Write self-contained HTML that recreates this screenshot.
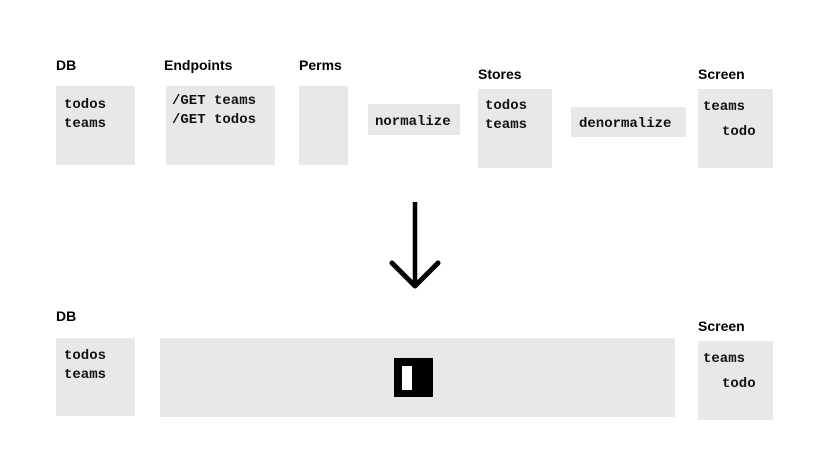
<!DOCTYPE html>
<html><head><meta charset="utf-8"><style>
body{margin:0;width:830px;height:475px;background:#fff;position:relative;overflow:hidden}
.b{position:absolute;background:#e8e8e8}
.t{position:absolute;font:bold 14px "Liberation Sans",sans-serif;color:#000;line-height:16px}
.m{position:absolute;font:bold 14px "Liberation Mono",monospace;color:#111;line-height:19px;white-space:pre}
</style></head><body>
<div class="t" style="left:56px;top:57px">DB</div>
<div class="b" style="left:56px;top:86px;width:79px;height:79px"></div>
<div class="m" style="left:64px;top:96px">todos
teams</div>
<div class="t" style="left:164px;top:57px">Endpoints</div>
<div class="b" style="left:166px;top:86px;width:109px;height:79px"></div>
<div class="m" style="left:172px;top:92px">/GET teams
/GET todos</div>
<div class="t" style="left:299px;top:57px">Perms</div>
<div class="b" style="left:299px;top:86px;width:49px;height:79px"></div>
<div class="b" style="left:368px;top:104px;width:92px;height:31px"></div>
<div class="m" style="left:375px;top:113px">normalize</div>
<div class="t" style="left:478px;top:66px">Stores</div>
<div class="b" style="left:478px;top:89px;width:74px;height:79px"></div>
<div class="m" style="left:485px;top:97px">todos
teams</div>
<div class="b" style="left:571px;top:107px;width:115px;height:30px"></div>
<div class="m" style="left:579px;top:115px">denormalize</div>
<div class="t" style="left:698px;top:66px">Screen</div>
<div class="b" style="left:698px;top:89px;width:75px;height:79px"></div>
<div class="m" style="left:703px;top:98px">teams</div>
<div class="m" style="left:722px;top:123px">todo</div>
<svg style="position:absolute;left:0;top:0" width="830" height="475">
<line x1="415" y1="202" x2="415" y2="284" stroke="#000" stroke-width="4.5"/>
<polyline points="392,263 415,286 438,263" fill="none" stroke="#000" stroke-width="5" stroke-linecap="round" stroke-linejoin="round"/>
</svg>
<div class="t" style="left:56px;top:308px">DB</div>
<div class="b" style="left:56px;top:338px;width:79px;height:78px"></div>
<div class="m" style="left:64px;top:347px">todos
teams</div>
<div class="b" style="left:160px;top:338px;width:515px;height:79px"></div>
<div style="position:absolute;left:394px;top:358px;width:39px;height:39px;background:#000"></div>
<div style="position:absolute;left:402px;top:366px;width:10px;height:24px;background:#fff"></div>
<div class="t" style="left:698px;top:318px">Screen</div>
<div class="b" style="left:698px;top:341px;width:75px;height:79px"></div>
<div class="m" style="left:703px;top:350px">teams</div>
<div class="m" style="left:722px;top:375px">todo</div>
</body></html>
